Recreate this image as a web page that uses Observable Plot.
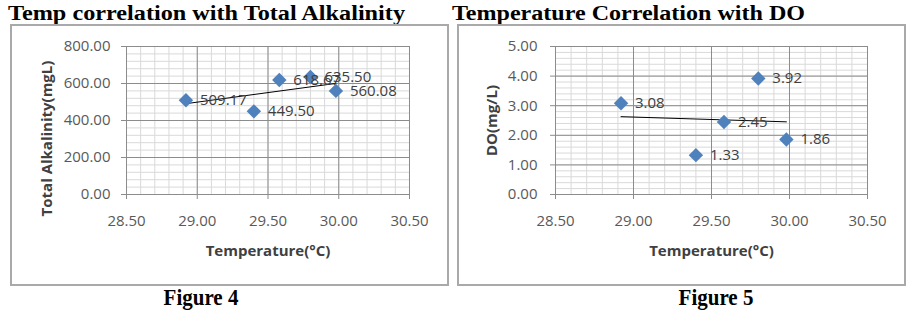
<!DOCTYPE html>
<html>
<head>
<meta charset="utf-8">
<script src="https://cdn.jsdelivr.net/npm/d3@7"></script>
<script src="https://cdn.jsdelivr.net/npm/@observablehq/plot@0.6"></script>
<style>
  html, body { margin: 0; padding: 0; background: #fff; }
  body { width: 913px; height: 310px; position: relative; overflow: hidden; }
  .title { position: absolute; font-family: "Liberation Serif", serif; font-weight: bold; font-size: 20px; color: #000; white-space: nowrap; transform-origin: 0 0; line-height: 20px; }
  .cap { position: absolute; font-family: "Liberation Serif", serif; font-weight: bold; font-size: 21px; color: #000; white-space: nowrap; line-height: 21px; transform: translateX(-50%) scaleY(1.1); }
  .box { position: absolute; outline: 2px solid #a9a9a9; outline-offset: -2px; }
  .box svg { display: block; }
</style>
</head>
<body>
<div class="title" id="t1" style="left:8px;top:3px">Temp correlation with Total Alkalinity</div>
<div class="title" id="t2" style="left:452px;top:3px">Temperature Correlation with DO</div>
<div class="box" id="c1" style="left:10px;top:24px;width:439px;height:262px"></div>
<div class="box" id="c2" style="left:457px;top:24px;width:449px;height:262px"></div>
<div class="cap" style="left:201px;top:287px">Figure 4</div>
<div class="cap" style="left:716px;top:287px">Figure 5</div>
<script>
// ---- data ----
const temperatures = [28.92, 29.40, 29.58, 29.80, 29.98];
const alkalinity = [509.17, 449.50, 618.67, 635.50, 560.08];
const dissolvedOxygen = [3.08, 1.33, 2.45, 3.92, 1.86];
const xTicks = [28.5, 29.0, 29.5, 30.0, 30.5];
const alkTicks = [0, 200, 400, 600, 800];
const doTicks = [0, 1, 2, 3, 4, 5];
const xTitle = "Temperature(°C)";
const alkTitle = "Total Alkalinity(mgL)";
const doTitle = "DO(mg/L)";

function makeChart(o) {
  const data = temperatures.map((t, i) => ({t, v: o.values[i], label: o.values[i].toFixed(2)}));
  const minorX = d3.range(0, 21).map(i => 28.5 + i * 0.1);
  const nY = Math.round((o.domain[1] - o.domain[0]) / o.minorStep);
  const minorY = d3.range(0, nY + 1).map(i => o.domain[0] + i * o.minorStep);
  return Plot.plot({
    width: o.width, height: 262,
    marginLeft: o.marginLeft, marginRight: o.marginRight, marginTop: 22, marginBottom: 92,
    x: {domain: [28.5, 30.5]},
    y: {domain: o.domain},
    style: {fontFamily: "'Open Sans', sans-serif", fontSize: "15px", color: "#595959", background: "transparent", overflow: "visible"},
    marks: [
      Plot.ruleX(minorX, {stroke: "#d9d9d9", strokeWidth: 1}),
      Plot.ruleY(minorY, {stroke: "#d9d9d9", strokeWidth: 1}),
      Plot.ruleX(xTicks, {stroke: "#8c8c8c", strokeWidth: 1}),
      Plot.ruleY(o.ticks, {stroke: "#8c8c8c", strokeWidth: 1}),
      Plot.axisX({ticks: xTicks, tickFormat: d => d.toFixed(2), tickSize: 5, tickPadding: 16, label: null, stroke: "#8c8c8c"}),
      Plot.axisY({ticks: o.ticks, tickFormat: d => d.toFixed(2), tickSize: 5, tickPadding: o.tickPad, label: null, stroke: "#8c8c8c"}),
      Plot.linearRegressionY(data, {x: "t", y: "v", stroke: "#000", strokeWidth: 1, ci: 0}),
      Plot.dot(data, {x: "t", y: "v", symbol: "diamond2", r: 6.5, fill: "#4F81BD", stroke: "none"}),
      Plot.text(data, {x: "t", y: "v", text: "label", textAnchor: "start", dx: 14, fill: "#404040", fontSize: 15}),
      Plot.text([xTitle], {frameAnchor: "bottom", textAnchor: "middle", lineAnchor: "middle", dy: 57, fontWeight: "bold", fill: "#404040", fontSize: 15}),
      Plot.text([o.yTitle], {frameAnchor: "left", textAnchor: "middle", lineAnchor: "middle", rotate: -90, dx: o.yTitleDx, dy: o.yTitleDy, fontWeight: "bold", fill: "#404040", fontSize: 15})
    ]
  });
}

document.getElementById("c1").append(makeChart({
  values: alkalinity, domain: [0, 800], ticks: alkTicks, minorStep: 40,
  width: 439, marginLeft: 116, marginRight: 40, tickPad: 11,
  yTitle: alkTitle, yTitleDx: -79, yTitleDy: 18
}));
document.getElementById("c2").append(makeChart({
  values: dissolvedOxygen, domain: [0, 5], ticks: doTicks, minorStep: 0.2,
  width: 449, marginLeft: 98, marginRight: 39, tickPad: 13,
  yTitle: doTitle, yTitleDx: -63, yTitleDy: 0
}));

// stretch titles to the widths seen in the reference
[["t1", 397], ["t2", 353]].forEach(([id, w]) => {
  const el = document.getElementById(id);
  const cw = el.getBoundingClientRect().width;
  el.style.transform = `scaleX(${w / cw})`;
});
</script>
</body>
</html>
